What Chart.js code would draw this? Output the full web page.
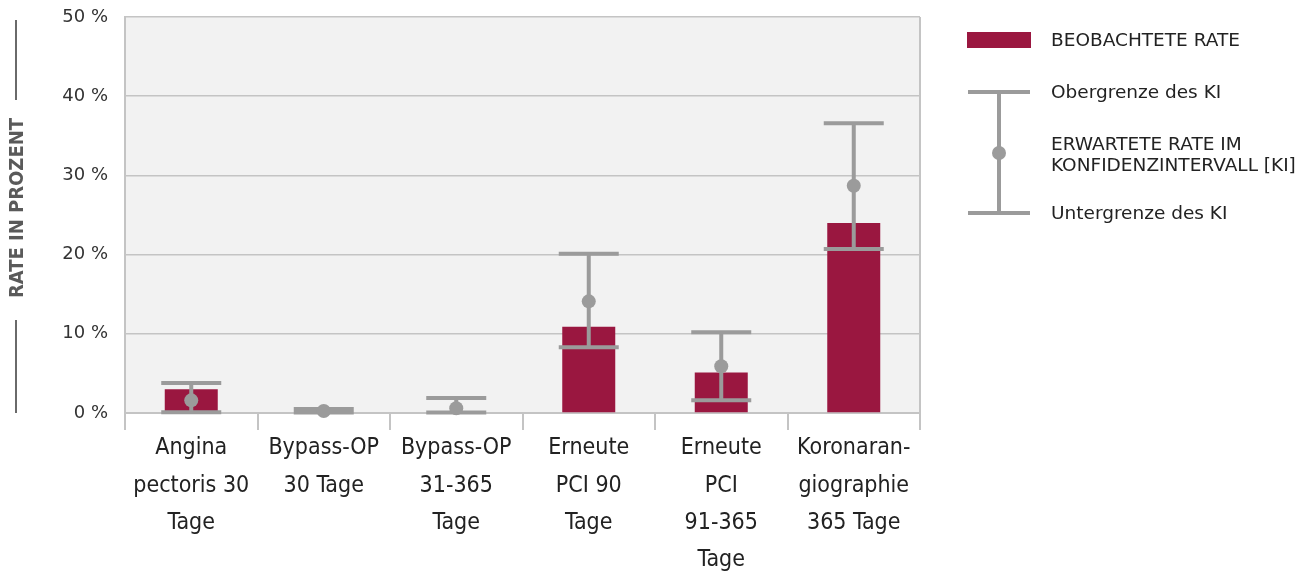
<!DOCTYPE html>
<html>
<head>
<meta charset="utf-8">
<script src="https://cdn.jsdelivr.net/npm/chart.js@4.4.1/dist/chart.umd.min.js"></script>
<style>
  html, body { margin: 0; padding: 0; background: #fff; }
  #wrap { position: relative; width: 1311px; height: 573px; }
  #chart { position: absolute; left: 0; top: 0; }
  .legend { position: absolute; font-family: "DejaVu Sans", sans-serif; font-size: 18.5px; color: #222; line-height: 21px; }
  .sw { position: absolute; }
</style>
</head>
<body>
<div id="wrap">
  <canvas id="chart" width="1311" height="573"></canvas>
  <div class="sw" style="left:967px;top:32px;width:64px;height:16px;background:#9a1740;"></div>
  <div class="legend" style="left:1051px;top:29px;">BEOBACHTETE RATE</div>
  <div class="sw" style="left:968px;top:90px;width:62px;height:4px;background:#9b9b9b;"></div>
  <div class="sw" style="left:997px;top:92px;width:4px;height:121px;background:#9b9b9b;"></div>
  <div class="sw" style="left:992px;top:146px;width:14px;height:14px;border-radius:50%;background:#9b9b9b;"></div>
  <div class="sw" style="left:968px;top:211px;width:62px;height:4px;background:#9b9b9b;"></div>
  <div class="legend" style="left:1051px;top:81px;">Obergrenze des KI</div>
  <div class="legend" style="left:1051px;top:133px;">ERWARTETE RATE IM<br>KONFIDENZINTERVALL [KI]</div>
  <div class="legend" style="left:1051px;top:202px;">Untergrenze des KI</div>
</div>
<script>
const categories = [
    ['Angina', 'pectoris 30', 'Tage'],
    ['Bypass-OP', '30 Tage'],
    ['Bypass-OP', '31-365', 'Tage'],
    ['Erneute', 'PCI 90', 'Tage'],
    ['Erneute', 'PCI', '91-365', 'Tage'],
    ['Koronaran-', 'giographie', '365 Tage']
];
const observedRate = [3.0, 0, 0, 10.9, 5.1, 24.0];
const expectedRate = [1.6, 0.25, 0.6, 14.1, 5.9, 28.7];
const upperCI = [3.8, 0.5, 1.9, 20.1, 10.2, 36.6];
const lowerCI = [0.1, 0.05, 0.05, 8.3, 1.6, 20.7];
const yTicks = [0, 10, 20, 30, 40, 50];

const BAR = '#9a1740';
const GREY = '#9b9b9b';

const frame = {
    id: 'frame',
    beforeDraw(chart) {
        const { ctx, chartArea: a } = chart;
        ctx.save();
        ctx.fillStyle = '#f2f2f2';
        ctx.fillRect(a.left, a.top, a.right - a.left, a.bottom - a.top);
        ctx.restore();
    },
    afterDraw(chart) {
        const { ctx, chartArea: a } = chart;
        ctx.save();
        // right border
        ctx.strokeStyle = '#c4c4c4';
        ctx.lineWidth = 2;
        ctx.beginPath();
        ctx.moveTo(a.right, a.top);
        ctx.lineTo(a.right, a.bottom);
        ctx.stroke();
        // axis title with lines
        ctx.translate(18, 208);
        ctx.rotate(-Math.PI / 2);
        ctx.fillStyle = '#5a5a5a';
        ctx.font = 'bold 20px "Liberation Sans Narrow", "DejaVu Sans Condensed", sans-serif';
        ctx.textAlign = 'center';
        ctx.textBaseline = 'middle';
        ctx.fillText('RATE IN PROZENT', 0, 0);
        ctx.strokeStyle = '#6a6a6a';
        ctx.lineWidth = 2;
        ctx.beginPath();
        ctx.moveTo(-112, -2); ctx.lineTo(-205, -2);
        ctx.moveTo(108, -2); ctx.lineTo(188, -2);
        ctx.stroke();
        ctx.restore();
    }
};

const errorBars = {
    id: 'errorBars',
    afterDatasetsDraw(chart) {
        const { ctx } = chart;
        const x = chart.scales.x, y = chart.scales.y;
        ctx.save();
        ctx.strokeStyle = GREY;
        ctx.fillStyle = GREY;
        ctx.lineWidth = 4;
        categories.forEach((_, i) => {
            const px = x.getPixelForValue(i);
            const yu = y.getPixelForValue(upperCI[i]);
            const yl = y.getPixelForValue(lowerCI[i]);
            const ye = y.getPixelForValue(expectedRate[i]);
            ctx.beginPath();
            ctx.moveTo(px, yu); ctx.lineTo(px, yl);
            ctx.moveTo(px - 30, yu); ctx.lineTo(px + 30, yu);
            ctx.moveTo(px - 30, yl); ctx.lineTo(px + 30, yl);
            ctx.stroke();
            ctx.beginPath();
            ctx.arc(px, ye, 7, 0, Math.PI * 2);
            ctx.fill();
        });
        ctx.restore();
    }
};

new Chart(document.getElementById('chart').getContext('2d'), {
    type: 'bar',
    data: {
        labels: categories,
        datasets: [{ label: 'BEOBACHTETE RATE', data: observedRate, backgroundColor: BAR, categoryPercentage: 1, barPercentage: 0.4 }]
    },
    options: {
        responsive: false,
        maintainAspectRatio: false,
        animation: false,
        layout: { padding: { top: 17, right: 391, left: 0, bottom: 0 } },
        plugins: { legend: { display: false }, tooltip: { enabled: false } },
        scales: {
            x: {
                offset: true,
                grid: { offset: true, drawOnChartArea: false, drawTicks: true, tickLength: 17, color: '#c4c4c4', lineWidth: 2 },
                border: { color: '#c4c4c4', width: 2 },
                ticks: { color: '#222', font: { family: '"Liberation Sans Narrow", "DejaVu Sans Condensed", sans-serif', size: 23, lineHeight: 1.61 }, padding: 0, maxRotation: 0, autoSkip: false },
                afterFit(s) { s.height = 160; s.paddingLeft = 0; s.paddingRight = 0; }
            },
            y: {
                min: 0, max: 50,
                afterBuildTicks(s) { s.ticks = yTicks.map(v => ({ value: v })); },
                grid: { color: '#c4c4c4', lineWidth: 1.5, drawTicks: false },
                border: { color: '#c4c4c4', width: 2 },
                ticks: { color: '#333', padding: 17, font: { family: '"DejaVu Sans", sans-serif', size: 18 }, callback: v => v + ' %' },
                afterFit(s) { s.width = 125; s.paddingTop = 0; s.paddingBottom = 0; }
            }
        }
    },
    plugins: [frame, errorBars]
});
</script>
</body>
</html>
